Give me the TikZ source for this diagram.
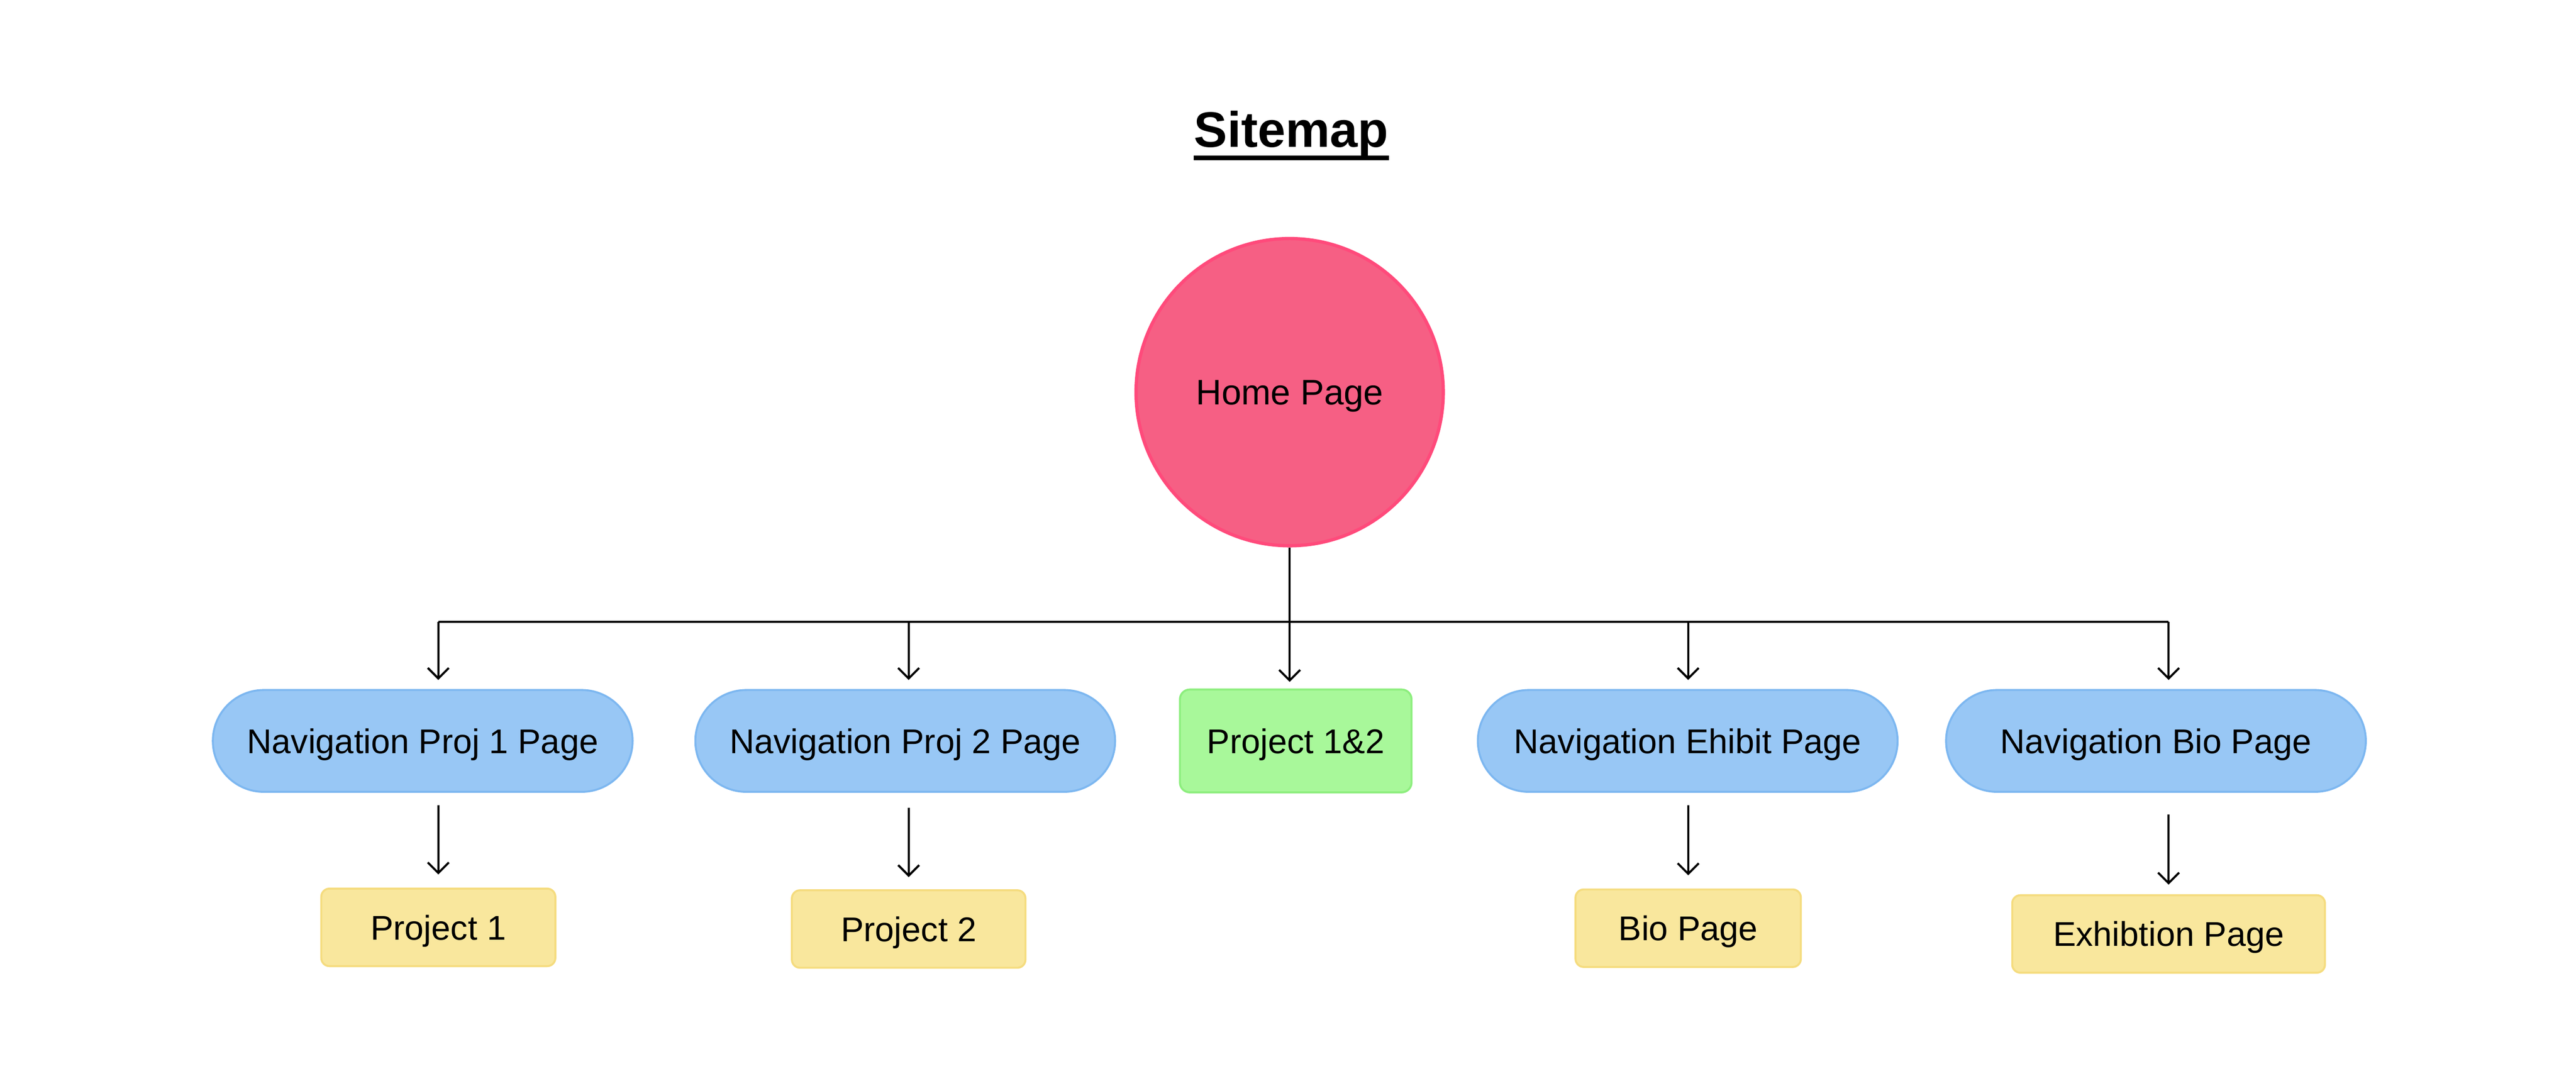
\documentclass[tikz,border=0pt]{standalone}
\usepackage{fontspec}
\setmainfont{Liberation Sans}
\usetikzlibrary{arrows.meta}

\definecolor{homepink}{HTML}{F65F84}
\definecolor{homeline}{HTML}{FF4A7B}
\definecolor{navblue}{HTML}{98C7F5}
\definecolor{navline}{HTML}{7DB7F0}
\definecolor{bothgreen}{HTML}{A8F89A}
\definecolor{bothline}{HTML}{8DEE7E}
\definecolor{pageyellow}{HTML}{F9E79D}
\definecolor{pageline}{HTML}{F5DC7F}

\begin{document}
\begin{tikzpicture}[x=0.5pt, y=-0.5pt, font=\fontsize{10.45}{12}\selectfont,
  box/.style={draw, line width=0.6pt, inner sep=0pt, text height=7.5pt, text depth=0pt},
  nav/.style={box, draw=navline, fill=navblue, minimum width=127.75pt, minimum height=31pt, rounded corners=15.5pt},
  page/.style={box, draw=pageline, fill=pageyellow, minimum height=23.6pt, rounded corners=2.5pt},
  arr/.style={-{Straight Barb[length=3.2pt,width=6.4pt]}, line width=0.65pt}]

\useasboundingbox (0,0) rectangle (1568,650.4);

\node[font=\fontsize{15.2}{18}\selectfont\bfseries, inner sep=0pt, anchor=base] (title) at (786,89.6) {Sitemap};
\draw[line width=1.45pt] ([yshift=-3.2pt]title.base west) -- ([yshift=-3.2pt]title.base east);

\node[circle, draw=homeline, fill=homepink, line width=1pt, minimum size=93.5pt, inner sep=0pt,
  font=\fontsize{10.8}{12}\selectfont, text height=7.7pt, text depth=0pt] (home) at (785,238.7) {Home Page};

\node[nav] (nav1) at (257.3,451) {Navigation Proj 1 Page};
\node[nav] (nav2) at (551,451) {Navigation Proj 2 Page};
\node[box, draw=bothline, fill=bothgreen, minimum width=70.5pt, minimum height=31.3pt, rounded corners=3pt] (both) at (788.7,451) {Project 1\&2};
\node[nav] (nav3) at (1027.3,451) {Navigation Ehibit Page};
\node[nav] (nav4) at (1312.3,451) {Navigation Bio Page};

\node[page, minimum width=71.25pt] (proj1) at (266.8,564.5) {Project 1};
\node[page, minimum width=71.1pt] (proj2) at (553.1,565.5) {Project 2};
\node[page, minimum width=68.6pt] (bio) at (1027.6,565) {Bio Page};
\node[page, minimum width=95.2pt] (exhib) at (1320,568.5) {Exhibtion Page};

\coordinate (bus) at (785,378.4);
\draw[line width=0.6pt] (proj1 |- bus) -- (exhib |- bus);
\draw[arr, shorten >=2pt] (home.south) -- (home.south |- both.north);
\foreach \a/\b in {nav1/proj1, nav2/proj2, nav3/bio, nav4/exhib}
  \draw[arr, shorten >=2.75pt] (\b |- bus) -- (\b |- \a.north);
\foreach \a/\b/\s/\t in {nav1/proj1/3.75pt/4pt, nav2/proj2/4.5pt/3.7pt, nav3/bio/3.75pt/4pt, nav4/exhib/6.6pt/2.9pt}
  \draw[arr, shorten <=\s, shorten >=\t] (\a.south -| \b) -- (\b.north);

\end{tikzpicture}
\end{document}
